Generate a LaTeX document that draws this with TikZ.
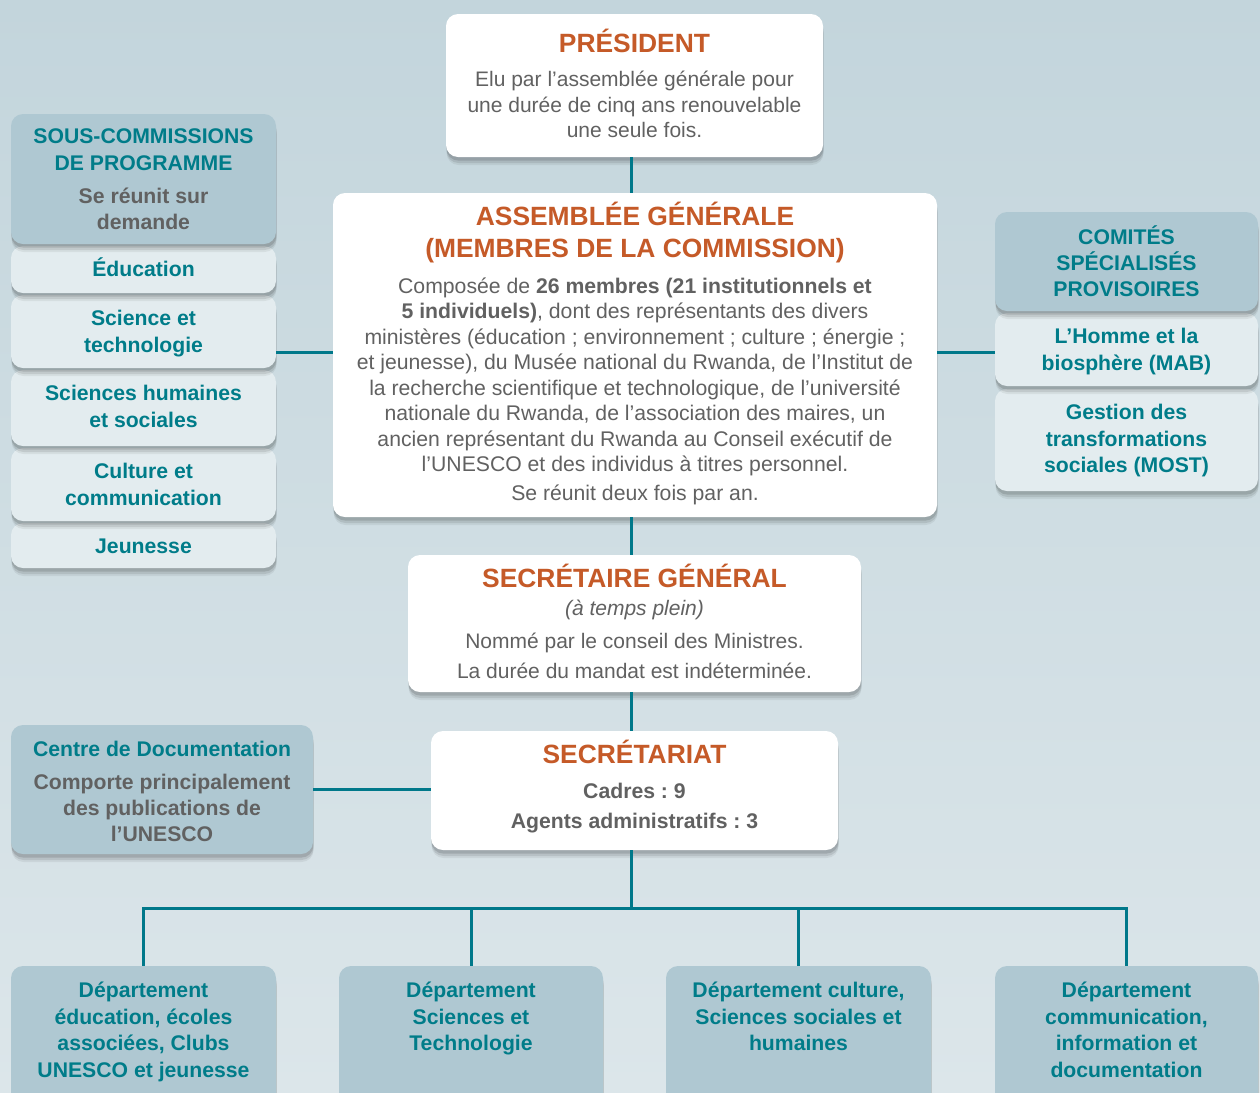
\documentclass[tikz,border=0pt]{standalone}
\usepackage{fontspec}
\setmainfont{Liberation Sans}
\frenchspacing
\usetikzlibrary{shadows,fit,calc}
\definecolor{bgtop}{HTML}{C3D5DC}
\definecolor{bgbot}{HTML}{DCE6EA}
\definecolor{darkbox}{HTML}{AFC8D2}
\definecolor{lightbox}{HTML}{E3ECEF}
\definecolor{tealtxt}{HTML}{007C89}
\definecolor{orangetxt}{HTML}{C55A28}
\definecolor{graytxt}{HTML}{616161}
\definecolor{lineteal}{HTML}{00788A}
\newcounter{tc}
\newcommand\tx[3]{\stepcounter{tc}\node[#1] (t\thetc) at (#2) {#3};}
\tikzset{
  softshadow/.style={
    drop shadow={shadow xshift=0.3pt, shadow yshift=-4pt, opacity=0.06, fill=black},
    drop shadow={shadow xshift=0.3pt, shadow yshift=-3pt, opacity=0.09, fill=black},
    drop shadow={shadow xshift=0.2pt, shadow yshift=-1.8pt, opacity=0.12, fill=black}},
  box/.style={rounded corners=6pt, inner sep=0pt, draw=none, softshadow},
  wbox/.style={box, fill=white},
  dbox/.style={box, fill=darkbox},
  lbox/.style={box, fill=lightbox},
  conn/.style={draw=lineteal, line width=1.5pt},
  txt/.style={anchor=mid, inner sep=0pt},
  ttl/.style={txt, text=orangetxt, font=\fontsize{13.2}{15}\selectfont\bfseries},
  bod/.style={txt, text=graytxt, font=\fontsize{10.5}{12}\selectfont},
  agb/.style={txt, text=graytxt, font=\fontsize{10.6}{12}\selectfont},
  ita/.style={txt, text=graytxt, font=\fontsize{10.5}{12}\selectfont\itshape},
  gbd/.style={txt, text=graytxt, font=\fontsize{10.6}{12}\selectfont\bfseries},
  tbd/.style={txt, text=tealtxt, font=\fontsize{10.6}{12}\selectfont\bfseries},
}
\begin{document}
\begin{tikzpicture}[x=0.5pt, y=-0.5pt]
\clip (0,0) rectangle (1260,1093);
\shade[top color=bgtop, bottom color=bgbot] (0,0) rectangle (1260,1093);
\coordinate (xl) at (631,0);
\coordinate (hl) at (0,352);
\coordinate (bus) at (0,908);

% central column
\node[wbox, fit={(446,14) (823,157)}] (pres) {};
\node[wbox, fit={(333,193) (937,517)}] (ag) {};
\node[wbox, fit={(408,555) (861,692)}] (sg) {};
\node[wbox, fit={(431,731) (838,850)}] (sec) {};

% left group (drawn bottom to top)
\node[lbox, fit={(11,523) (276,568)}] (jeu) {};
\node[lbox, fit={(11,448) (276,521)}] (cul) {};
\node[lbox, fit={(11,370) (276,446)}] (shs) {};
\node[lbox, fit={(11,295) (276,368)}] (sci) {};
\node[lbox, fit={(11,246) (276,293)}] (edu) {};
\node[dbox, fit={(11,114) (276,244)}] (scp) {};

% right group
\node[lbox, fit={(995,389) (1258,491)}] (most) {};
\node[lbox, fit={(995,313) (1258,386)}] (mab) {};
\node[dbox, fit={(995,212) (1258,311)}] (csp) {};

% documentation centre
\node[dbox, fit={(11,725) (313,854)}] (cd) {};

% departments
\node[dbox, fit={(11,966) (276,1120)}] (d1) {};
\node[dbox, fit={(339,966) (603,1120)}] (d2) {};
\node[dbox, fit={(666,966) (931,1120)}] (d3) {};
\node[dbox, fit={(995,966) (1258,1120)}] (d4) {};

% connectors
\draw[conn] (pres.south -| xl) -- (ag.north -| xl);
\draw[conn] (ag.south -| xl) -- (sg.north -| xl);
\draw[conn] (sg.south -| xl) -- (sec.north -| xl);
\draw[conn] (sci.east |- hl) -- (ag.west |- hl);
\draw[conn] (ag.east |- hl) -- (mab.west |- hl);
\draw[conn] (cd.east) -- (sec.west |- cd.east);
\draw[conn] (sec.south -| xl) -- (xl |- bus);
\draw[conn] (d1.north) -- (d1.north |- bus) -- (d4.north |- bus) -- (d4.north);
\draw[conn] (d2.north |- bus) -- (d2.north);
\draw[conn] (d3.north |- bus) -- (d3.north);

\begin{scope}[yshift=-1.4pt]
% President
\tx{ttl}{634.5,44}{PRÉSIDENT}
\tx{bod}{634.5,78}{Elu par l’assemblée générale pour}
\tx{bod}{634.5,104}{une durée de cinq ans renouvelable}
\tx{bod}{634.5,129}{une seule fois.}

% Assemblee
\tx{ttl}{635,217}{ASSEMBLÉE GÉNÉRALE}
\tx{ttl}{635,249}{(MEMBRES DE LA COMMISSION)}
\tx{agb}{635,285}{Composée de \textbf{26 membres (21 institutionnels et}}
\tx{agb}{635,310}{\textbf{5 individuels)}, dont des représentants des divers}
\tx{agb}{635,336}{ministères (éducation ; environnement ; culture ; énergie ;}
\tx{agb}{635,361}{et jeunesse), du Musée national du Rwanda, de l’Institut de}
\tx{agb}{635,387}{la recherche scientifique et technologique, de l’université}
\tx{agb}{635,412}{nationale du Rwanda, de l’association des maires, un}
\tx{agb}{635,438}{ancien représentant du Rwanda au Conseil exécutif de}
\tx{agb}{635,463}{l’UNESCO et des individus à titres personnel.}
\tx{agb}{635,492}{Se réunit deux fois par an.}

% left group text
\tx{tbd}{143.5,135}{SOUS-COMMISSIONS}
\tx{tbd}{143.5,162}{DE PROGRAMME}
\tx{gbd}{143.5,195}{Se réunit sur}
\tx{gbd}{143.5,221}{demande}
\tx{tbd}{143.5,268}{Éducation}
\tx{tbd}{143.5,317}{Science et}
\tx{tbd}{143.5,344}{technologie}
\tx{tbd}{143.5,392}{Sciences humaines}
\tx{tbd}{143.5,419}{et sociales}
\tx{tbd}{143.5,470}{Culture et}
\tx{tbd}{143.5,497}{communication}
\tx{tbd}{143.5,545}{Jeunesse}

% right group text
\tx{tbd}{1126.5,236}{COMITÉS}
\tx{tbd}{1126.5,262}{SPÉCIALISÉS}
\tx{tbd}{1126.5,288}{PROVISOIRES}
\tx{tbd}{1126.5,335}{L’Homme et la}
\tx{tbd}{1126.5,362}{biosphère (MAB)}
\tx{tbd}{1126.5,411}{Gestion des}
\tx{tbd}{1126.5,438}{transformations}
\tx{tbd}{1126.5,464}{sociales (MOST)}

% SG
\tx{ttl}{634.5,579}{SECRÉTAIRE GÉNÉRAL}
\tx{ita}{634.5,607}{(à temps plein)}
\tx{bod}{634.5,640}{Nommé par le conseil des Ministres.}
\tx{bod}{634.5,670}{La durée du mandat est indéterminée.}

% Secretariat
\tx{ttl}{634.5,755}{SECRÉTARIAT}
\tx{gbd}{634.5,790}{Cadres : 9}
\tx{gbd}{634.5,820}{Agents administratifs : 3}

% Centre de documentation
\tx{tbd}{162,748}{Centre de Documentation}
\tx{gbd}{162,781}{Comporte principalement}
\tx{gbd}{162,807}{des publications de}
\tx{gbd}{162,833}{l’UNESCO}

% departments
\tx{tbd}{143.5,989}{Département}
\tx{tbd}{143.5,1016}{éducation, écoles}
\tx{tbd}{143.5,1042}{associées, Clubs}
\tx{tbd}{143.5,1069}{UNESCO et jeunesse}
\tx{tbd}{471,989}{Département}
\tx{tbd}{471,1016}{Sciences et}
\tx{tbd}{471,1042}{Technologie}
\tx{tbd}{798.5,989}{Département culture,}
\tx{tbd}{798.5,1016}{Sciences sociales et}
\tx{tbd}{798.5,1042}{humaines}
\tx{tbd}{1126.5,989}{Département}
\tx{tbd}{1126.5,1016}{communication,}
\tx{tbd}{1126.5,1042}{information et}
\tx{tbd}{1126.5,1069}{documentation}
\end{scope}
\end{tikzpicture}
\end{document}
